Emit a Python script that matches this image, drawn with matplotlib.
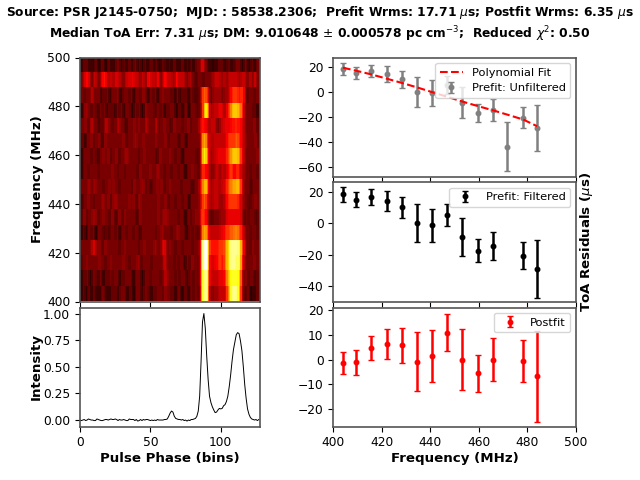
#!/usr/bin/env python3
"""Pulsar residual summary: dynamic spectrum, pulse profile and ToA residuals."""

import numpy as np
import matplotlib
matplotlib.use("Agg")
import matplotlib.pyplot as plt

# dynamic spectrum, one string per channel from top to bottom, 128 phase bins,
# each digit is the brightness (0 = black, 9 = white)
DYN_ROWS = [
    "1021120110 1201021101 2011021210 1201120112 1021012011 1201201021 1102011201 1021102012 0112123321 2011011021 1201112011 1212101211 01201121",
    "2132433212 3221233432 2323142322 2132332423 2312322143 3232242132 4323231243 2323221231 2111212112 1212223232 2223132323 2322232312 23123212",
    "1211212132 1212102112 1021212201 1212112102 1211221201 2112102122 1212112012 1021120112 1111123454 4311222222 2122223344 4443443211 21211212",
    "1021312112 1201211210 2112012112 1021211012 1121012212 1211121121 0211212101 1201121012 1211122467 6521323233 3322344566 6665542212 12112011",
    "1212211231 2120211223 1211212312 1201212122 1221212312 1212311212 2121112212 1211212211 2121233433 3223232212 3233333343 4434332212 12122112",
    "1120121221 1212201221 2121212121 2211212122 2121221212 1212212121 2211212121 1121201212 1212124565 4232232323 2323344444 4544332221 21212211",
    "1021212112 1201212212 2112122112 1222212121 2112122121 2121112212 1212212112 1201121212 1211124676 5322232333 3333445566 6665432212 12121221",
    "1021211212 1211212121 2122121121 2112121212 1122121212 2121222121 1212112121 1212011212 2121123443 3321222322 2322334443 3443322212 11212112",
    "1212122212 2212121121 2212212112 1212121122 1212221121 1121221221 1212212121 2112121211 1121234566 5322232322 3233445556 5665431212 11121212",
    "1112122121 1212122212 2112222121 2121221221 1222121212 1212122121 2211212112 1211212012 1212133454 3322232322 2223344444 4443322121 11212212",
    "1122112122 2211212212 1122111221 1221212121 1122121212 1212122122 2221212121 1212011211 2122134443 3211121212 2222333333 3333321121 12121112",
    "1021012112 1012121112 0212112102 1211212112 1201212121 2121121222 1212112122 2121201121 1211124565 5323232323 3334444545 5554432212 11212112",
    "1212121223 3212211221 2121212112 1221212121 2112122121 2122212133 3212212112 1211212121 1212136899 9543434344 4445667888 8887643212 11221212",
    "1121221212 1212212112 1221212121 2212112121 2221121212 1121212122 3212121121 1212012112 2121136899 9532333344 4345667888 8787632212 12122121",
    "1021121012 1201211021 1211212102 1121212011 2121012121 1212121121 3221212112 1121210212 1121136788 8432323233 3334566777 7776521221 12120211",
    "1021012011 2011021201 1021120112 1211021101 2121021211 1021121211 2212112011 2101120112 1121126788 8421222223 2323456788 8876421112 10110211",
]
DYN_FREQ_LOW = 400
DYN_FREQ_HIGH = 500
N_BINS = 128

# average pulse profile, one value per phase bin
PROFILE = [
    -0.005, -0.01, -0.005, 0.0, -0.01, -0.005, 0.005, 0.0, -0.005, -0.005,
    -0.01, -0.01, 0.005, 0.0, -0.005, -0.01, -0.01, -0.005, 0.0, 0.0,
    -0.005, 0.0, 0.005, 0.0, 0.0, 0.005, 0.0, -0.01, 0.0, -0.005,
    -0.005, 0.0, -0.005, -0.01, -0.01, 0.005, 0.0, 0.0, 0.0, -0.01,
    0.0, -0.015, -0.01, 0.0, -0.01, 0.0, -0.005, 0.0, 0.0, -0.005,
    -0.01, -0.005, -0.01, -0.005, -0.01, 0.0, -0.005, -0.005, -0.005, -0.005,
    0.0, 0.0, 0.005, 0.03, 0.06, 0.08, 0.07, 0.03, 0.01, 0.005,
    0.0, 0.0, -0.005, 0.0, -0.01, -0.005, -0.015, -0.005, -0.01, 0.0,
    0.0, 0.005, 0.01, 0.03, 0.08, 0.22, 0.55, 0.92, 1.0, 0.86,
    0.6, 0.38, 0.22, 0.16, 0.12, 0.09, 0.065, 0.07, 0.09, 0.105,
    0.1, 0.105, 0.13, 0.14, 0.17, 0.22, 0.31, 0.42, 0.55, 0.66,
    0.73, 0.8, 0.82, 0.81, 0.74, 0.65, 0.5, 0.33, 0.2, 0.1,
    0.05, 0.02, 0.005, 0.0, -0.005, 0.0, -0.01, 0.0,
]

# ToA residuals (microseconds)
FREQS = [404.0, 409.4, 415.7, 422.0, 428.2, 434.5, 440.7, 447.0, 453.2, 459.5, 465.7, 478.2, 484.0]
PREFIT_FILT = [18.5, 15.2, 17.0, 14.5, 10.4, 0.2, -1.1, 5.4, -8.7, -17.4, -14.6, -20.6, -29.1]
PREFIT_ERR = [4.8, 5.0, 5.0, 6.3, 6.8, 12.0, 10.6, 7.3, 12.4, 7.4, 8.8, 8.5, 18.6]
POSTFIT = [-1.3, -1.1, 4.8, 6.3, 5.7, -0.9, 1.5, 10.9, 0.0, -5.6, 0.0, -0.7, -6.8]
POSTFIT_ERR = [4.5, 5.0, 4.9, 6.2, 6.9, 11.9, 10.5, 7.3, 12.3, 7.3, 8.8, 8.5, 18.5]

UNFILT_FREQS = [404.0, 409.4, 415.7, 422.0, 428.2, 434.5, 440.7, 447.0, 453.2, 459.5, 465.7, 471.7, 478.2, 484.0]
UNFILT = [18.5, 15.7, 17.3, 14.7, 10.4, 0.5, -0.3, 5.9, -8.3, -16.8, -14.4, -43.7, -20.3, -28.8]
UNFILT_ERR = [4.8, 5.0, 5.0, 6.3, 6.8, 12.0, 10.6, 7.3, 12.4, 7.4, 8.8, 19.6, 8.5, 18.6]
POLY_FIT = [19.8, 17.4, 14.4, 11.0, 7.6, 4.0, 0.2, -3.6, -7.4, -11.0, -14.4, -17.9, -21.8, -27.2]

FREQ_TICKS = [400, 420, 440, 460, 480, 500]

TITLE = (
    r"Source: PSR J2145-0750;  MJD: : 58538.2306;  Prefit Wrms: 17.71 $\mu$s; Postfit Wrms: 6.35 $\mu$s"
    "\n"
    r"Median ToA Err: 7.31 $\mu$s; DM: 9.010648 $\pm$ 0.000578 pc cm$^{-3}$;  Reduced $\chi^2$: 0.50"
)

W, H = 640.0, 480.0
SPINE = "#555555"
LABEL_SIZE = 9.6
TICK_SIZE = 8.8
LEGEND_SIZE = 8.2


def axes_px(fig, left, top, right, bottom):
    # axes box given in picture pixels
    return fig.add_axes([left / W, 1 - bottom / H, (right - left) / W, (bottom - top) / H])


def style(ax):
    for s in ax.spines.values():
        s.set_color(SPINE)
        s.set_linewidth(1.2)
    ax.tick_params(labelsize=TICK_SIZE)


def main():
    fig = plt.figure(figsize=(6.4, 4.8), dpi=100)

    # dynamic spectrum, softened along phase the way the reference looks
    ax_dyn = axes_px(fig, 80, 57.5, 259.5, 301.5)
    rows = [r.replace(" ", "") for r in DYN_ROWS]
    img = np.array([[int(c) for c in r] for r in rows], dtype=float)
    img = np.array([np.convolve(r, [0.25, 0.5, 0.25], mode="same") for r in img])
    ax_dyn.imshow(img, cmap="hot", vmin=0, vmax=9, aspect="auto", interpolation="nearest",
                  extent=[0, N_BINS - 0.5, DYN_FREQ_LOW, DYN_FREQ_HIGH])
    ax_dyn.set_xticks([0, 50, 100])
    ax_dyn.set_xticklabels([])
    ax_dyn.set_yticks(FREQ_TICKS)
    ax_dyn.set_ylabel("Frequency (MHz)", fontsize=LABEL_SIZE, fontweight="bold")
    ax_dyn.yaxis.set_label_coords(-0.2, 0.5)
    style(ax_dyn)

    # average profile
    ax_prof = axes_px(fig, 80, 307.5, 259.5, 426.5)
    ax_prof.plot(range(N_BINS), PROFILE, color="k", lw=0.7)
    ax_prof.set_xlim(0, N_BINS - 0.5)
    ax_prof.set_ylim(-0.066, 1.057)
    ax_prof.set_xticks([0, 50, 100])
    ax_prof.set_yticks([0, 0.25, 0.5, 0.75, 1.0])
    ax_prof.set_xlabel("Pulse Phase (bins)", fontsize=LABEL_SIZE, fontweight="bold", labelpad=2)
    ax_prof.set_ylabel("Intensity", fontsize=LABEL_SIZE, fontweight="bold")
    ax_prof.yaxis.set_label_coords(-0.21, 0.5)
    style(ax_prof)

    # prefit, unfiltered, with the fit
    ax_top = axes_px(fig, 333.3, 57.5, 576, 177)
    ax_top.errorbar(UNFILT_FREQS, UNFILT, yerr=UNFILT_ERR, fmt=".", color="gray", ms=6.5,
                    capsize=2, elinewidth=1.8, capthick=1, label="Prefit: Unfiltered")
    ax_top.plot(UNFILT_FREQS, POLY_FIT, color="r", ls="--", lw=1.5, label="Polynomial Fit", zorder=5)
    ax_top.set_xlim(400, 500)
    ax_top.set_ylim(-68, 28)
    ax_top.set_xticks(FREQ_TICKS)
    ax_top.set_xticklabels([])
    ax_top.set_yticks([-60, -40, -20, 0, 20])
    ax_top.legend(loc="upper right", fontsize=LEGEND_SIZE)
    style(ax_top)

    # prefit, filtered
    ax_mid = axes_px(fig, 333.3, 182, 576, 301.5)
    ax_mid.errorbar(FREQS, PREFIT_FILT, yerr=PREFIT_ERR, fmt=".", color="k", ms=6.5,
                    capsize=2, elinewidth=1.8, capthick=1, label="Prefit: Filtered")
    ax_mid.set_xlim(400, 500)
    ax_mid.set_ylim(-50, 26.5)
    ax_mid.set_xticks(FREQ_TICKS)
    ax_mid.set_xticklabels([])
    ax_mid.set_yticks([-40, -20, 0, 20])
    ax_mid.yaxis.set_label_position("right")
    ax_mid.set_ylabel(r"ToA Residuals ($\mu$s)", fontsize=LABEL_SIZE, fontweight="bold")
    ax_mid.yaxis.set_label_coords(1.009, 0.5)
    ax_mid.legend(loc="upper right", fontsize=LEGEND_SIZE)
    style(ax_mid)

    # postfit
    ax_post = axes_px(fig, 333.3, 307.5, 576, 426.5)
    ax_post.errorbar(FREQS, POSTFIT, yerr=POSTFIT_ERR, fmt=".", color="r", ms=6.5,
                     capsize=2, elinewidth=1.8, capthick=1, label="Postfit")
    ax_post.set_xlim(400, 500)
    ax_post.set_ylim(-27, 21)
    ax_post.set_xticks(FREQ_TICKS)
    ax_post.set_yticks([-20, -10, 0, 10, 20])
    ax_post.set_xlabel("Frequency (MHz)", fontsize=LABEL_SIZE, fontweight="bold", labelpad=2)
    ax_post.legend(loc="upper right", fontsize=LEGEND_SIZE)
    style(ax_post)

    fig.text(0.5, 1 - 24 / H, TITLE, ha="center", va="center", fontsize=8.8,
             fontweight="bold", linespacing=1.25)

    fig.savefig("out.png", dpi=100)


if __name__ == "__main__":
    main()
